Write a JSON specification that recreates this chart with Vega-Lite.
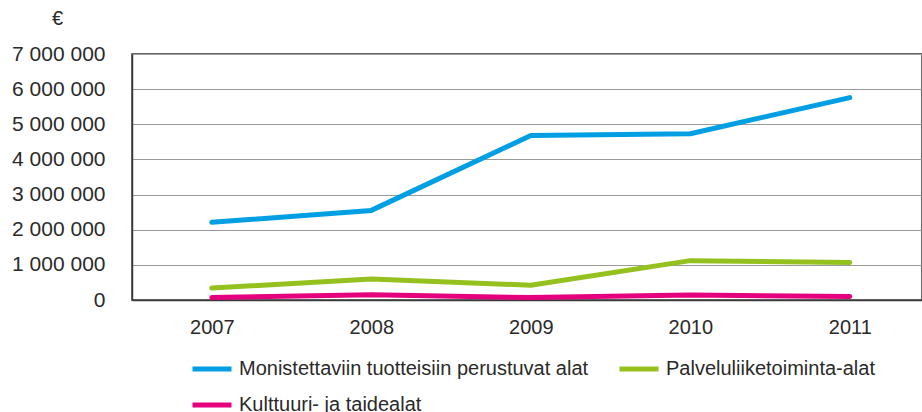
{
  "$schema": "https://vega.github.io/schema/vega-lite/v6.json",
  "width": 790,
  "height": 246,
  "autosize": {"type": "none"},
  "padding": {"left": 132, "top": 54, "right": 0, "bottom": 112},
  "background": "white",
  "config": {
    "font": "Liberation Sans",
    "view": {"stroke": "#3a3a3a", "strokeWidth": 1.5},
    "axis": {"labelFont": "Liberation Sans", "labelFontSize": 20, "labelColor": "#2a2a2a", "titleFont": "Liberation Sans"},
    "legend": {"labelFont": "Liberation Sans", "labelFontSize": 20, "labelColor": "#2a2a2a"}
  },
  "data": {
    "values": [
      {"vuosi": "2007", "ala": "Monistettaviin tuotteisiin perustuvat alat", "arvo": 2210000},
      {"vuosi": "2008", "ala": "Monistettaviin tuotteisiin perustuvat alat", "arvo": 2550000},
      {"vuosi": "2009", "ala": "Monistettaviin tuotteisiin perustuvat alat", "arvo": 4680000},
      {"vuosi": "2010", "ala": "Monistettaviin tuotteisiin perustuvat alat", "arvo": 4730000},
      {"vuosi": "2011", "ala": "Monistettaviin tuotteisiin perustuvat alat", "arvo": 5760000},
      {"vuosi": "2007", "ala": "Palveluliiketoiminta-alat", "arvo": 340000},
      {"vuosi": "2008", "ala": "Palveluliiketoiminta-alat", "arvo": 600000},
      {"vuosi": "2009", "ala": "Palveluliiketoiminta-alat", "arvo": 420000},
      {"vuosi": "2010", "ala": "Palveluliiketoiminta-alat", "arvo": 1120000},
      {"vuosi": "2011", "ala": "Palveluliiketoiminta-alat", "arvo": 1070000},
      {"vuosi": "2007", "ala": "Kulttuuri- ja taidealat", "arvo": 70000},
      {"vuosi": "2008", "ala": "Kulttuuri- ja taidealat", "arvo": 150000},
      {"vuosi": "2009", "ala": "Kulttuuri- ja taidealat", "arvo": 70000},
      {"vuosi": "2010", "ala": "Kulttuuri- ja taidealat", "arvo": 140000},
      {"vuosi": "2011", "ala": "Kulttuuri- ja taidealat", "arvo": 100000}
    ]
  },
  "mark": {"type": "line", "strokeWidth": 5, "strokeCap": "round", "strokeJoin": "round"},
  "encoding": {
    "x": {
      "field": "vuosi", "type": "ordinal",
      "scale": {"type": "point", "padding": 0.4765, "align": 0.525},
      "axis": {"title": null, "labelAngle": 0, "ticks": false, "tickSize": 0, "labelPadding": 17, "domain": true, "domainColor": "#3a3a3a", "domainWidth": 1.5, "grid": false}
    },
    "y": {
      "field": "arvo", "type": "quantitative",
      "scale": {"domain": [0, 7000000], "nice": false},
      "axis": {
        "values": [0, 1000000, 2000000, 3000000, 4000000, 5000000, 6000000, 7000000],
        "labelExpr": "replace(format(datum.value, ','), regexp(',', 'g'), ' ')",
        "labelFontSize": 21,
        "ticks": false, "tickSize": 0, "labelPadding": 27,
        "domain": true, "domainColor": "#3a3a3a", "domainWidth": 1.5,
        "grid": true, "gridColor": "#9a9a9a", "gridWidth": 1,
        "title": "€", "titleAngle": 0, "titleX": -75, "titleY": -36,
        "titleAlign": "center", "titleBaseline": "middle", "titleFontSize": 20,
        "titleFontWeight": "normal", "titleColor": "#2a2a2a"
      }
    },
    "color": {
      "field": "ala", "type": "nominal",
      "scale": {
        "domain": ["Monistettaviin tuotteisiin perustuvat alat", "Palveluliiketoiminta-alat", "Kulttuuri- ja taidealat"],
        "range": ["#009FE3", "#95C11F", "#E5007D"]
      },
      "legend": {
        "title": null, "orient": "none", "legendX": 58, "legendY": 293,
        "direction": "horizontal",
        "columns": 2, "symbolType": "stroke", "symbolSize": 1521, "symbolStrokeWidth": 5,
        "labelOffset": 5, "columnPadding": 20, "rowPadding": 4, "labelLimit": 0
      }
    }
  }
}
